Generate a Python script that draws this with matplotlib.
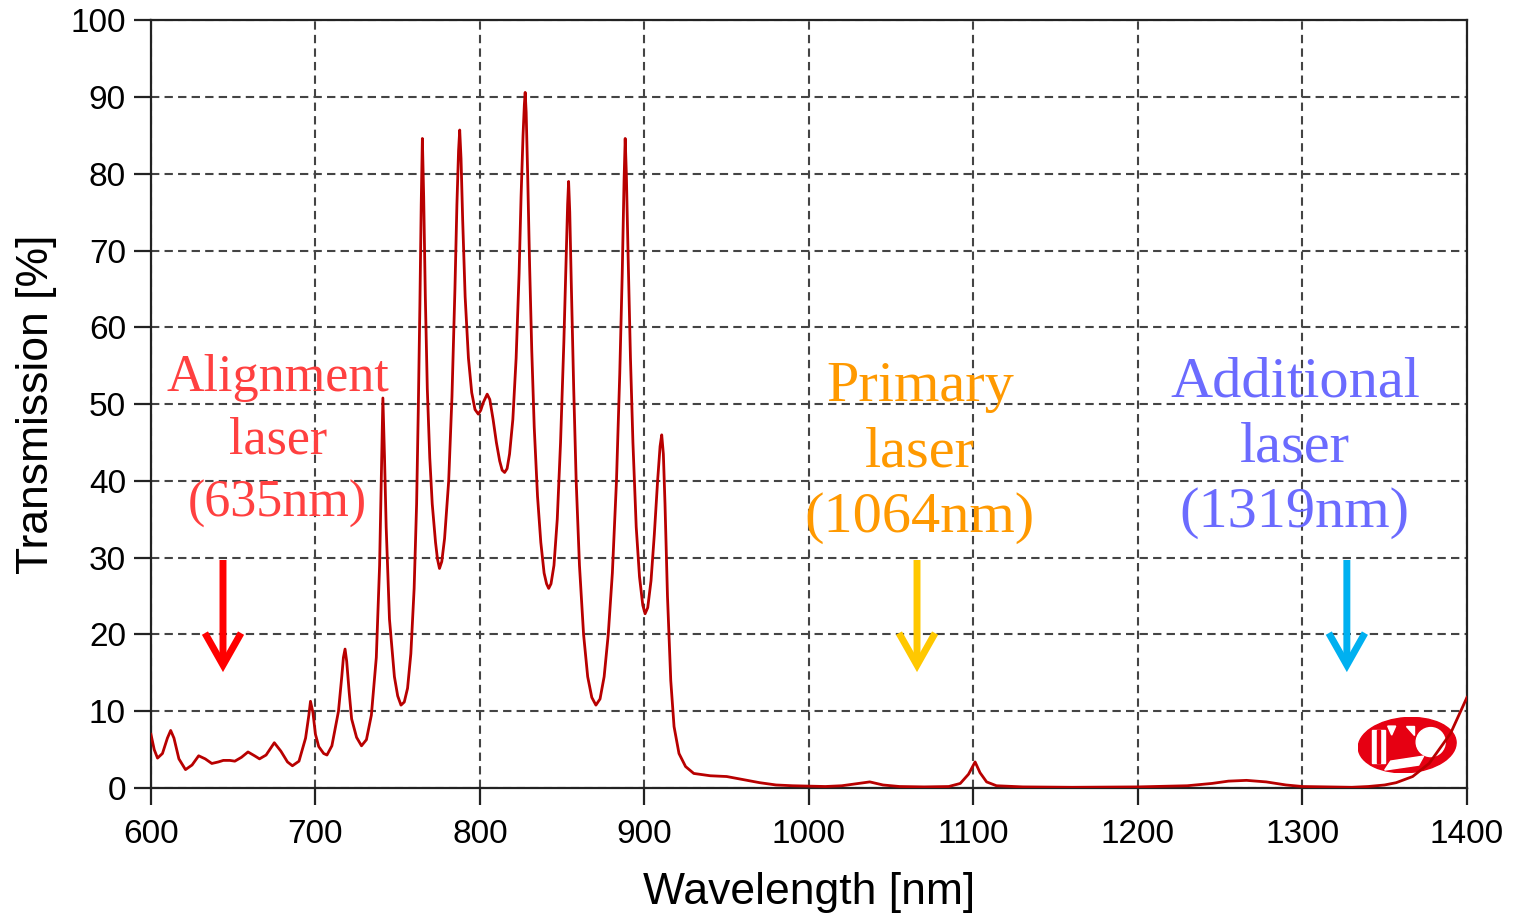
import numpy as np
import matplotlib
matplotlib.use('Agg')
import matplotlib.pyplot as plt
from matplotlib.patches import Ellipse, Circle, Polygon, Rectangle

# transmission curve
wavelength = [600, 602, 604, 607, 610, 612, 614, 617, 621, 625, 629, 633, 637, 641,
              644, 648, 651, 655, 659, 663, 666, 670, 675, 679, 683, 686, 690, 694,
              696, 697, 698.5, 700, 702, 705, 707, 710, 714, 716, 717, 718, 719, 720.5,
              722, 725, 728, 731, 734, 737, 739, 740, 741, 742, 743, 745, 748, 750,
              752, 754, 756, 758, 760, 761.5, 762.5, 763.5, 764.3, 765, 765.8, 766.8,
              768, 769.5, 771, 773, 774.2, 775.4, 776.8, 778.5, 781, 783, 784.8, 786,
              787, 787.7, 788.5, 789.5, 791, 793, 795, 797, 799, 800.5, 802, 804.4,
              806, 808, 810, 812, 813.5, 815, 816.5, 818, 820, 822, 823.8, 825,
              826.2, 827, 827.5, 828.1, 829, 830.2, 831.5, 833, 835, 837, 839,
              840.5, 841.8, 843.2, 845, 847, 849, 851, 852.5, 853.3, 853.9, 854.6,
              855.5, 857, 858.5, 860.5, 863, 865.5, 868, 870.5, 873, 875.5, 878,
              880.5, 883, 885, 886.5, 887.6, 888.3, 889, 890, 891.5, 893, 895, 897,
              899, 900.4, 902, 904, 906, 908, 909.5, 910.5, 911.5, 912.5, 914, 916,
              918, 921, 925, 930, 940, 950, 960, 970, 980, 990, 1000, 1010, 1020,
              1030, 1037, 1045, 1055, 1070, 1085, 1092, 1097, 1101, 1104, 1108, 1114,
              1130, 1160, 1200, 1230, 1245, 1255, 1266, 1278, 1290, 1300, 1330, 1340,
              1350, 1357, 1367, 1377, 1390, 1400]
transmission = [7.0, 5.0, 3.9, 4.5, 6.5, 7.5, 6.5, 3.8, 2.4, 3.0, 4.2, 3.8, 3.2, 3.4,
                3.6, 3.6, 3.5, 4.0, 4.7, 4.2, 3.8, 4.3, 5.9, 4.8, 3.4, 2.9, 3.5, 6.5,
                9.5, 11.3, 9.8, 7.0, 5.4, 4.5, 4.3, 5.5, 10, 14.5, 17, 18.1, 16.5, 12.5,
                9.0, 6.6, 5.5, 6.3, 9.5, 17, 29, 40, 50.8, 43, 34, 22, 14.5, 12,
                10.8, 11.2, 13, 17.5, 26, 37, 49, 63, 76, 84.6, 77, 64,
                52, 43, 37, 32, 29.8, 28.6, 29.5, 32.5, 40, 51, 65, 76,
                83, 85.7, 82, 74, 64, 56, 51.5, 49.3, 48.7, 49.2, 50.2, 51.3,
                50.6, 48, 45, 42.6, 41.4, 41.1, 41.6, 43.5, 48, 56, 67, 77,
                85, 89, 90.6, 88, 80, 68, 57, 47, 38, 32, 28,
                26.6, 26, 26.6, 29, 35, 45, 58, 70, 76, 79, 75,
                66, 52, 40, 29, 20, 14.5, 11.8, 10.8, 11.6, 14.5, 20,
                28, 40, 54, 67, 79, 84.6, 80, 70, 56, 45, 34, 27.5,
                23.8, 22.7, 23.5, 27, 33, 40, 44.5, 46, 43.5, 37, 25, 14,
                8, 4.5, 2.8, 1.9, 1.6, 1.5, 1.1, 0.7, 0.4, 0.3, 0.25, 0.2, 0.3,
                0.6, 0.8, 0.4, 0.2, 0.15, 0.2, 0.6, 1.8, 3.4, 2.0, 0.8, 0.3,
                0.15, 0.1, 0.15, 0.3, 0.6, 0.9, 1.0, 0.8, 0.4, 0.2, 0.1, 0.2,
                0.4, 0.7, 1.5, 3.2, 7.1, 11.8]

x_ticks = [600, 700, 800, 900, 1000, 1100, 1200, 1300, 1400]
y_ticks = [0, 10, 20, 30, 40, 50, 60, 70, 80, 90, 100]

# laser annotations
laser_labels = ['Alignment\nlaser\n(635nm)', 'Primary\nlaser\n(1064nm)', 'Additional\nlaser\n(1319nm)']
label_x = [677, 1067.5, 1295.4]
label_y = [45.2, 43.7, 44.3]
label_size = [37.5, 42, 42]
label_spacing = [1.4, 1.33, 1.33]
label_colors = ['#ff4040', '#ff9900', '#6b6bff']
arrow_x = [643.8, 1065.7, 1327]
arrow_top = 29.7
arrow_tip = 15.1
arrow_colors = ['#ff0000', '#ffc800', '#00b0f0']

fig = plt.figure(figsize=(15.17, 9.19), dpi=100)
ax = fig.add_axes([0.0995, 0.1425, 0.8675, 0.8355])

ax.plot(wavelength, transmission, color='#b80000', lw=2.0, zorder=3)

ax.set_xlim(600, 1400)
ax.set_ylim(0, 100)
ax.set_xticks(x_ticks)
ax.set_yticks(y_ticks)
ax.grid(True, color='#444444', lw=1.5, linestyle=(0, (4, 2.5)))
for s in ax.spines.values():
    s.set_linewidth(1.6)
    s.set_color('#222222')
ax.tick_params(direction='out', length=12, width=1.6, color='#222222',
               labelsize=24, pad=6)
ax.tick_params(axis='x', pad=10)
for lbl in ax.get_xticklabels() + ax.get_yticklabels():
    lbl.set_family('Liberation Sans')
ax.set_xlabel('Wavelength [nm]', fontsize=32, family='Liberation Sans', labelpad=16)
ax.set_ylabel('Transmission [%]', fontsize=32, family='Liberation Sans', labelpad=10)

for txt, x, y, fs, ls, c in zip(laser_labels, label_x, label_y, label_size,
                                label_spacing, label_colors):
    ax.text(x, y, txt, ha='center', va='center', fontsize=fs, color=c,
            family='Liberation Serif', linespacing=ls, zorder=4)

for x, c in zip(arrow_x, arrow_colors):
    ax.annotate('', xy=(x, arrow_tip), xytext=(x, arrow_top),
                arrowprops=dict(arrowstyle='->,head_length=1.15,head_width=0.65',
                                mutation_scale=20, lw=5, color=c,
                                shrinkA=0, shrinkB=0, joinstyle='miter',
                                capstyle='butt'))

# logo in lower right corner
logo = ax.inset_axes([0.917, 0.0195, 0.0752, 0.0729], zorder=2.5)
logo.set_xlim(0, 99)
logo.set_ylim(0, 56)
logo.axis('off')
logo.add_patch(Ellipse((49.5, 28), 98, 55, angle=4, color='#e60012'))
logo.add_patch(Rectangle((14, 10), 13, 33, color='white'))
logo.add_patch(Rectangle((19, 10), 3.5, 33, color='#e60012'))
logo.add_patch(Circle((73, 31), 14.5, color='white'))
logo.add_patch(Polygon([(27, 3), (33, 12), (66, 17), (61, 8)], color='white'))
logo.add_patch(Polygon([(30, 47), (38, 47), (34, 38)], color='white'))
logo.add_patch(Polygon([(48, 47), (56, 47), (56, 38)], color='white'))

fig.savefig('out.png', dpi=100)
